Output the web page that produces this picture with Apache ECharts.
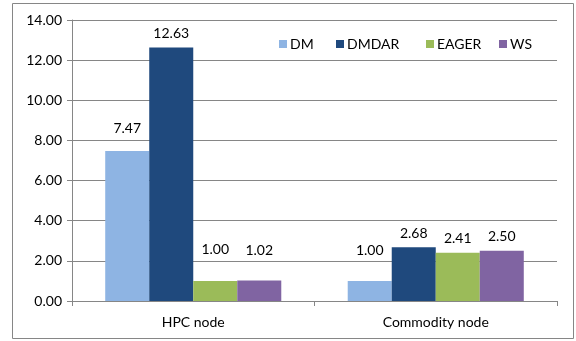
<!DOCTYPE html>
<html><head><meta charset="utf-8">
<script src="https://cdn.jsdelivr.net/npm/echarts@6/dist/echarts.min.js"></script>
<style>html,body{margin:0;padding:0;background:#fff}#c{width:576px;height:341px}</style>
</head><body><div id="c"></div>
<script>
const categories = ["HPC node", "Commodity node"];
const seriesNames = ["DM", "DMDAR", "EAGER", "WS"];
const dmValues = [7.47, 1.00];
const dmdarValues = [12.63, 2.68];
const eagerValues = [1.00, 2.41];
const wsValues = [1.02, 2.50];
const yTicks = [0, 2, 4, 6, 8, 10, 12, 14];

const colors = ["#8EB4E3", "#1F497D", "#9BBB59", "#8064A2"];
const font = "Lato, 'Open Sans', sans-serif";
const values = [dmValues, dmdarValues, eagerValues, wsValues];
const legendLeft = [279, 336, 426, 499];
// label distance above bar top (style only), per series per category
const labelDist = [[16, 23], [7, 7], [24, 7], [23, 7]];

const chart = echarts.init(document.getElementById('c'), null, {renderer: 'canvas'});
chart.setOption({
  animation: false,
  color: colors,
  textStyle: {fontFamily: font},
  graphic: [{type: 'rect', shape: {x: 12.5, y: 3.5, width: 561, height: 335},
    style: {fill: 'none', stroke: '#868686', lineWidth: 1}, silent: true}],
  legend: seriesNames.map((n, i) => ({
    data: [n], left: legendLeft[i], top: 37, itemWidth: 8, itemHeight: 8, itemGap: 0,
    icon: 'rect', textStyle: {fontFamily: font, fontSize: 14, color: '#000', padding: [0,0,0,-2]},
    padding: 0, selectedMode: false
  })),
  grid: {left: 72, right: 19, top: 20, bottom: 40, containLabel: false},
  xAxis: {
    type: 'category', data: categories,
    axisLine: {lineStyle: {color: '#868686'}},
    axisTick: {show: true, length: 5, lineStyle: {color: '#868686'}},
    axisLabel: {color: '#000', fontSize: 14, fontFamily: font, margin: 14}
  },
  yAxis: {
    type: 'value', min: yTicks[0], max: yTicks[yTicks.length - 1], interval: 2,
    axisLine: {show: true, lineStyle: {color: '#868686'}},
    axisTick: {show: true, length: 5, lineStyle: {color: '#868686'}},
    splitLine: {lineStyle: {color: '#868686'}},
    axisLabel: {color: '#000', fontSize: 14, fontFamily: font, margin: 10,
      formatter: v => v.toFixed(2)}
  },
  series: seriesNames.map((n, i) => ({
    name: n, type: 'bar',
    data: values[i].map((v, j) => ({value: v, label: {distance: labelDist[i][j]}})),
    barGap: '0%', barCategoryGap: '27.4%',
    itemStyle: {color: colors[i]},
    label: {show: true, position: 'top', color: '#000', fontSize: 14,
      fontFamily: font, formatter: p => p.value.toFixed(2)}
  }))
});
</script></body></html>
